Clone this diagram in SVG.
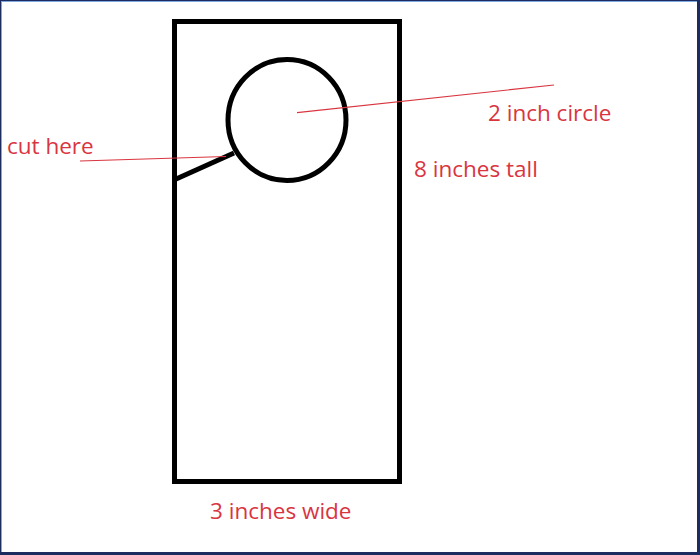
<svg xmlns="http://www.w3.org/2000/svg" width="700" height="555" viewBox="0 0 700 555">
<style>
.lbl{font-family:"Open Sans","Liberation Sans",sans-serif;font-size:22.5px;fill:#d9353f}
.shape{fill:none;stroke:#000;stroke-width:5}
.leader{stroke:#d9353f;stroke-width:1.2;fill:none}
</style>
<rect x="0" y="0" width="700" height="555" fill="#ffffff"/>
<rect x="1.5" y="1.5" width="696" height="551" fill="none" stroke="#7fa8e0" stroke-width="1"/>
<rect x="0" y="0" width="700" height="555" fill="none" stroke="#1c2c5e" stroke-width="2"/>
<line x1="0" y1="553.5" x2="700" y2="553.5" stroke="#1c2c5e" stroke-width="3"/>
<line x1="698.5" y1="0" x2="698.5" y2="555" stroke="#1c2c5e" stroke-width="3"/>
<g id="hanger">
<rect class="shape" x="174.5" y="21.5" width="225" height="460"/>
</g>
<g id="circle">
<ellipse class="shape" cx="287" cy="120" rx="59" ry="60.5"/>
</g>
<g id="cut">
<line class="shape" x1="175" y1="179.5" x2="234" y2="153" stroke-width="4.5"/>
</g>
<g id="connectors">
<line class="leader" x1="80" y1="161" x2="226" y2="156.5"/>
<line class="leader" x1="297" y1="112.7" x2="554" y2="85"/>
</g>
<g id="labels">
<text class="lbl" x="7" y="154">cut here</text>
<text class="lbl" x="488" y="121">2 inch circle</text>
<text class="lbl" x="414" y="176.5">8 inches tall</text>
<text class="lbl" x="210" y="518.5">3 inches wide</text>
</g>
</svg>
